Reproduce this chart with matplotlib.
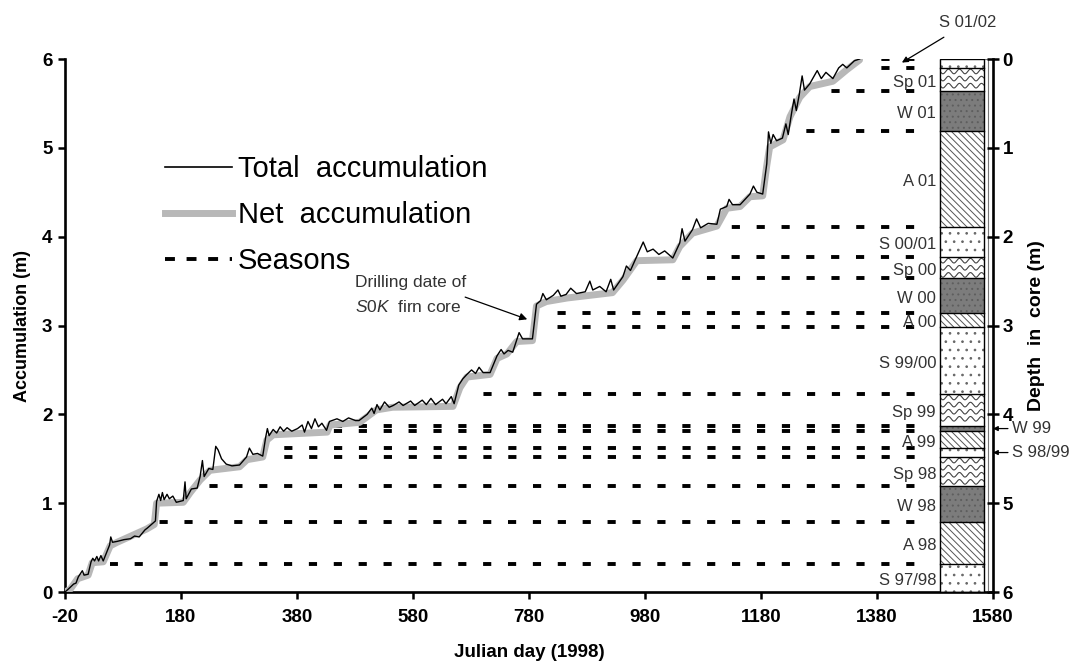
import numpy as np
import matplotlib
matplotlib.use("Agg")
import matplotlib.pyplot as plt
from matplotlib.patches import Rectangle
from matplotlib.lines import Line2D

plt.rcParams["font.family"] = ["Liberation Sans", "DejaVu Sans"]
plt.rcParams["mathtext.fontset"] = "custom"
plt.rcParams["mathtext.it"] = "Liberation Sans:italic"
plt.rcParams["mathtext.rm"] = "Liberation Sans"
plt.rcParams["hatch.linewidth"] = 0.7
plt.rcParams["axes.unicode_minus"] = False

net_day = [-20, -11, 2, 20, 27, 46, 58, 70, 121, 134, 138, 184, 196, 213, 230,
           281, 294, 321, 328, 339, 432, 437, 488, 517, 545, 649, 661, 673, 713,
           725, 742, 759, 786, 793, 810, 846, 924, 942, 966, 1028, 1040, 1062,
           1104, 1121, 1144, 1161, 1183, 1190, 1195, 1218, 1230, 1247, 1264,
           1304, 1328, 1350]
net_acc = [0.0, 0.03, 0.15, 0.19, 0.33, 0.34, 0.52, 0.56, 0.71, 0.76, 1.0, 1.01,
           1.12, 1.26, 1.37, 1.41, 1.49, 1.52, 1.71, 1.77, 1.80, 1.88, 1.91, 2.05,
           2.08, 2.09, 2.30, 2.42, 2.45, 2.63, 2.68, 2.82, 2.83, 3.22, 3.27, 3.31,
           3.37, 3.51, 3.73, 3.74, 3.89, 4.04, 4.12, 4.32, 4.34, 4.45, 4.46, 4.80,
           5.01, 5.09, 5.35, 5.57, 5.69, 5.75, 5.88, 5.99]

total_day = [-20, -13, -5, -1, 3, 7, 10, 13, 20, 25, 28, 31, 35, 38, 42, 46,
             57, 59, 62, 70, 82, 93, 100, 108, 118, 122,
             136, 138, 142, 145, 148, 151, 156, 160, 166, 172, 184, 187, 189,
             198, 208, 213, 217, 220, 228, 235, 240, 244, 250, 258, 268, 281, 293,
             298, 304, 312, 321,
             326, 329, 332, 339, 345, 351, 357, 363, 371, 381, 389, 393, 399, 405,
             411, 417, 423, 431, 436, 449, 459, 469, 481, 487,
             501, 509, 513, 518, 523, 531, 539, 546, 556, 563, 576, 583, 596, 603,
             611, 619, 631, 637, 646, 651,
             659, 666, 673, 681, 688, 694, 701, 713, 725, 732, 737, 744, 752, 759,
             763, 769, 786,
             793, 800, 804, 810, 822, 830, 835, 844, 852, 862, 877, 885, 890, 902,
             913, 921, 926,
             942, 948, 955, 966, 972, 977, 984, 994, 1004, 1014, 1028,
             1040, 1044, 1049, 1062, 1069, 1076, 1089, 1104,
             1110, 1121, 1125, 1131, 1144, 1161, 1167, 1173, 1183,
             1190, 1193, 1197, 1201, 1207, 1217, 1223, 1227,
             1233, 1237, 1241, 1246, 1251, 1255, 1264, 1271, 1277, 1284, 1292,
             1304, 1314, 1321, 1328, 1341, 1350]
total_acc = [0.0, 0.04, 0.09, 0.10, 0.17, 0.21, 0.24, 0.19, 0.20, 0.34, 0.38, 0.35,
             0.40, 0.35, 0.41, 0.35,
             0.53, 0.62, 0.56, 0.57, 0.59, 0.60, 0.63, 0.62, 0.70, 0.72,
             0.80, 1.02, 1.10, 1.03, 1.12, 1.04, 1.10, 1.05, 1.08, 1.01, 1.03, 1.24,
             1.05,
             1.16, 1.17, 1.30, 1.48, 1.30, 1.39, 1.38, 1.64, 1.60, 1.50, 1.44, 1.42,
             1.43, 1.52, 1.62, 1.55, 1.56, 1.53,
             1.74, 1.84, 1.76, 1.83, 1.79, 1.86, 1.81, 1.85, 1.81, 1.84, 1.88, 1.80,
             1.92, 1.84, 1.95, 1.86, 1.90, 1.82, 1.92, 1.95, 1.92, 1.96, 1.93, 1.93,
             2.00, 2.07, 2.01, 2.11, 2.05, 2.14, 2.08, 2.10, 2.14, 2.10, 2.15, 2.10,
             2.16, 2.11, 2.18, 2.11, 2.17, 2.12, 2.20, 2.12,
             2.33, 2.40, 2.45, 2.50, 2.46, 2.53, 2.47, 2.47, 2.66, 2.73, 2.68, 2.72,
             2.70, 2.84, 2.92, 2.85, 2.85,
             3.24, 3.28, 3.36, 3.29, 3.34, 3.40, 3.33, 3.35, 3.42, 3.36, 3.38, 3.50,
             3.40, 3.44, 3.38, 3.52, 3.40,
             3.55, 3.67, 3.62, 3.78, 3.87, 3.94, 3.83, 3.86, 3.80, 3.84, 3.76,
             3.93, 4.09, 3.95, 4.08, 4.20, 4.10, 4.15, 4.14,
             4.31, 4.34, 4.42, 4.36, 4.36, 4.48, 4.57, 4.50, 4.48,
             4.82, 5.18, 5.05, 5.15, 5.08, 5.11, 5.27, 5.15,
             5.40, 5.55, 5.42, 5.60, 5.81, 5.65, 5.72, 5.80, 5.87, 5.78, 5.85,
             5.78, 5.90, 5.94, 5.90, 5.98, 6.00]

# firn core layers (depth in m)
layer_names = ["S 01/02", "Sp 01", "W 01", "A 01", "S 00/01", "Sp 00", "W 00",
               "A 00", "S 99/00", "Sp 99", "W 99", "A 99", "S 98/99", "Sp 98",
               "W 98", "A 98", "S 97/98"]
layer_top = [0.0, 0.10, 0.36, 0.81, 1.89, 2.23, 2.47, 2.86, 3.02, 3.77, 4.13,
             4.19, 4.38, 4.48, 4.81, 5.21, 5.68]
layer_bottom = [0.10, 0.36, 0.81, 1.89, 2.23, 2.47, 2.86, 3.02, 3.77, 4.13, 4.19,
                4.38, 4.48, 4.81, 5.21, 5.68, 6.0]

# where each season line starts along the time axis
season_start = [1361, 1361, 1282, 1241, 1115, 1074, 989, 822, 822, 690, 437, 437,
                354, 354, 225, 139, 58]
season_end = 1470

outside_labels = ["S 01/02", "W 99", "S 98/99"]

# ——— figure ———
fig = plt.figure(figsize=(10.7, 6.64), dpi=100)
ax = fig.add_axes([0.0607, 0.1084, 0.8673, 0.8027])
ax2 = ax.twinx()

ax.set_xlim(-20, 1580)
ax.set_ylim(0, 6)
ax2.set_ylim(6, 0)

# season dashed lines, dashes kept on a common grid
lw_s = 2.8
on, off = 2.1, 4.3
period_days = 42.9
grid0 = 57.6
for d, s in zip(layer_top, season_start):
    ph = ((s - grid0) % period_days) / period_days * (on + off)
    ax.plot([s, season_end], [d, d], transform=ax2.transData, color="black",
            lw=lw_s, linestyle=(ph, (on, off)), dash_capstyle="butt", zorder=2)

ax.plot(net_day, net_acc, color="#b8b8b8", lw=5, solid_joinstyle="round",
        solid_capstyle="round", zorder=3)
ax.plot(total_day, total_acc, color="black", lw=1.0, zorder=4)

# ——— core column ———
col_left, col_right = 1489, 1564
ax2.add_patch(Rectangle((col_left, 0), 1571 - col_left, 6, fill=False,
                        edgecolor="#777777", lw=0.8, zorder=1))
for name, top, bot in zip(layer_names, layer_top, layer_bottom):
    h = bot - top
    if name.startswith("Sp"):
        rect = Rectangle((col_left, top), col_right - col_left, h,
                         facecolor="white", edgecolor="none", zorder=2)
        ax2.add_patch(rect)
        xs = np.linspace(col_left, col_right, 200)
        for r in np.arange(top + 0.04, bot, 0.08):
            ln, = ax2.plot(xs, r + 0.026 * np.sin(2 * np.pi * (xs - col_left) / 19),
                           color="#444444", lw=0.8, zorder=3)
            ln.set_clip_path(rect)
    elif name.startswith("S"):
        ax2.add_patch(Rectangle((col_left, top), col_right - col_left, h,
                                facecolor="white", edgecolor="#666666", hatch="..",
                                lw=0, zorder=2))
    elif name.startswith("W"):
        ax2.add_patch(Rectangle((col_left, top), col_right - col_left, h,
                                facecolor="#7c7c7c", edgecolor="#5e5e5e", hatch="...",
                                lw=0, zorder=2))
    else:
        ax2.add_patch(Rectangle((col_left, top), col_right - col_left, h,
                                facecolor="white", edgecolor="#555555",
                                hatch="\\\\\\\\\\", lw=0, zorder=2))
    ax2.plot([col_left, col_right], [bot, bot], color="black", lw=1.0, zorder=4)
ax2.add_patch(Rectangle((col_left, 0), col_right - col_left, 6, fill=False,
                        edgecolor="black", lw=1.0, zorder=5))

# season labels
for name, top, bot in zip(layer_names, layer_top, layer_bottom):
    if name in outside_labels:
        continue
    ax2.text(1482, (top + bot) / 2 + 0.03, name, ha="right", va="center",
             fontsize=12, color="#333333", zorder=6)

for name, top, bot in zip(layer_names, layer_top, layer_bottom):
    if name in ("W 99", "S 98/99"):
        ax2.annotate(name, xy=(1580, (top + bot) / 2), xytext=(1613, (top + bot) / 2),
                     ha="left", va="center", fontsize=12, color="#333333",
                     annotation_clip=False,
                     arrowprops=dict(arrowstyle="-|>", color="black", lw=0.9,
                                     mutation_scale=7, shrinkA=1, shrinkB=0))
ax2.annotate("S 01/02", xy=(1423, 0.04), xytext=(1537, -0.41), ha="center",
             va="center", fontsize=12, color="#333333", annotation_clip=False,
             arrowprops=dict(arrowstyle="-|>", color="black", lw=0.9,
                             mutation_scale=9, shrinkA=6, shrinkB=0))

# drilling date note
ax.annotate("", xy=(777, 3.07), xytext=(670, 3.32),
            arrowprops=dict(arrowstyle="-|>", color="black", lw=0.9,
                            mutation_scale=11, shrinkA=0, shrinkB=0))
ax.text(480, 3.48, "Drilling date of", ha="left", va="center", fontsize=12.5,
        color="#333333")
ax.text(480, 3.21, r"$\mathit{S0K}$  firn core", ha="left", va="center",
        fontsize=12.5, color="#333333")

# ——— legend ———
handles = [Line2D([], [], color="black", lw=1.2),
           Line2D([], [], color="#b8b8b8", lw=5),
           Line2D([], [], color="black", lw=2.8, linestyle=(0, (2.55, 3.0)),
                  dash_capstyle="butt")]
ax.legend(handles, ["Total  accumulation", "Net  accumulation", "Seasons"],
          loc="upper left", bbox_to_anchor=(165 / 1070, (664 - 155) / 664),
          bbox_transform=fig.transFigure, frameon=False, fontsize=21,
          handlelength=2.29, handletextpad=0.2, labelspacing=0.62,
          borderpad=0, borderaxespad=0)

# ——— axes styling ———
ax.set_xticks(np.arange(-20, 1581, 200))
ax.set_yticks(range(0, 7))
ax2.set_yticks(range(0, 7))
ax.spines["top"].set_visible(False)
ax.spines["right"].set_visible(False)
ax2.spines["top"].set_visible(False)
ax2.spines["left"].set_visible(False)
for sp in ("left", "bottom"):
    ax.spines[sp].set_linewidth(1.9)
ax2.spines["right"].set_linewidth(1.9)
ax.tick_params(axis="x", direction="out", length=5, width=1.8, labelsize=13.5, pad=7)
ax.tick_params(axis="y", direction="out", length=5, width=1.8, labelsize=13.5, pad=4)
ax2.tick_params(axis="y", direction="inout", length=8, width=1.8, labelsize=13.5, pad=3)
for lbl in ax.get_xticklabels() + ax.get_yticklabels() + ax2.get_yticklabels():
    lbl.set_fontweight("bold")

ax.set_xlabel("Julian day (1998)", fontsize=13.5, fontweight="bold")
ax.xaxis.set_label_coords(0.5, -0.098)
ax.set_ylabel("Accumulation (m)", fontsize=13, fontweight="bold")
ax.yaxis.set_label_coords(-0.037, 0.5)
ax2.set_ylabel("Depth  in  core (m)", fontsize=14, fontweight="bold")
ax2.yaxis.set_label_coords(1.038, 0.5)

fig.savefig("out.png", dpi=100)
